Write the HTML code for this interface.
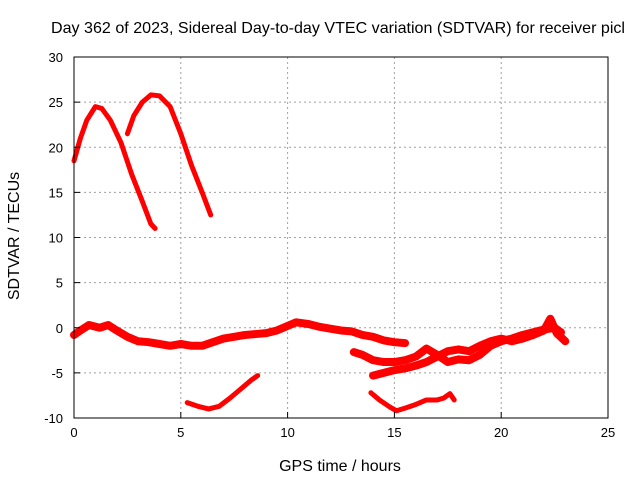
<!DOCTYPE html>
<html><head><meta charset="utf-8"><style>
body{margin:0;background:#fff}
svg{display:block;font-family:"Liberation Sans",sans-serif}
</style></head><body>
<svg id="c" width="640" height="480">
<text x="51" y="33" font-size="16" textLength="574" lengthAdjust="spacingAndGlyphs">Day 362 of 2023, Sidereal Day-to-day VTEC variation (SDTVAR) for receiver picl</text>
<text x="340" y="471" font-size="16" text-anchor="middle">GPS time / hours</text>
<text transform="translate(19,236) rotate(-90)" font-size="16" text-anchor="middle">SDTVAR / TECUs</text>
<g id="grid"></g><g id="series"></g><g id="axes"></g>
</svg>
<script>
const xTicks=[0,5,10,15,20,25];
const yTicks=[-10,-5,0,5,10,15,20,25,30];
const seriesA=[[0,18.5],[0.3,21],[0.6,23],[1,24.5],[1.3,24.3],[1.7,23],[2.2,20.5],[2.7,17],[3.2,14],[3.6,11.5],[3.8,11]];
const seriesB=[[2.5,21.5],[2.8,23.5],[3.2,25],[3.6,25.8],[4,25.7],[4.5,24.5],[5,21.5],[5.5,18],[6,15],[6.4,12.5]];
const seriesC=[[0,-0.8],[0.3,-0.3],[0.7,0.3],[1.2,0],[1.6,0.3],[2,-0.3],[2.5,-1],[3,-1.5],[3.5,-1.6],[4,-1.8],[4.5,-2],[5,-1.8],[5.5,-2],[6,-2],[6.5,-1.6],[7,-1.2],[7.5,-1],[8,-0.8],[8.5,-0.7],[9,-0.6],[9.5,-0.3],[10,0.2],[10.4,0.6],[11,0.4],[11.5,0.1],[12,-0.1],[12.5,-0.3],[13,-0.4],[13.5,-0.8],[14,-1],[14.5,-1.4],[15,-1.6],[15.5,-1.7]];
const seriesD=[[13.1,-2.7],[13.5,-3],[14,-3.6],[14.5,-3.8],[15,-3.8],[15.5,-3.6],[16,-3.2],[16.5,-2.3],[17,-3],[17.5,-3.8],[18,-3.5],[18.5,-3.6],[19,-3],[19.5,-2],[20,-1.5],[20.5,-1.2],[21,-0.8],[21.5,-0.5],[22,-0.2],[22.5,0],[22.8,-0.5]];
const seriesE=[[14,-5.3],[14.5,-5],[15,-4.7],[15.5,-4.5],[16,-4.2],[16.5,-3.8],[17,-3.2],[17.5,-2.6],[18,-2.4],[18.5,-2.6],[19,-2],[19.5,-1.5],[20,-1.2],[20.5,-1.5],[21,-1.2],[21.5,-0.8],[22,-0.3],[22.3,1],[22.6,-0.6],[23,-1.5]];
const seriesF=[[5.3,-8.3],[5.8,-8.7],[6.3,-9],[6.8,-8.7],[7.3,-7.8],[7.8,-6.8],[8.3,-5.8],[8.6,-5.3]];
const seriesG=[[13.9,-7.2],[14.3,-8],[14.8,-8.8],[15.1,-9.2],[15.5,-8.9],[16,-8.5],[16.5,-8],[17,-8],[17.3,-7.8],[17.6,-7.3],[17.8,-8]];
const allSeries=[seriesA,seriesB,seriesC,seriesD,seriesE,seriesF,seriesG];
const L=74,R=608,T=57,B=418;
const xs=v=>L+(v-0)/25*(R-L);
const ys=v=>B-(v+10)/40*(B-T);
const NS="http://www.w3.org/2000/svg";
const grid=document.getElementById('grid'),axes=document.getElementById('axes'),ser=document.getElementById('series');
function mk(tag,at,par){const e=document.createElementNS(NS,tag);for(const k in at)e.setAttribute(k,at[k]);par.appendChild(e);return e;}
xTicks.forEach(t=>{
 const g=mk('line',{x1:xs(t),x2:xs(t),y1:T,y2:B,stroke:'#a0a0a0','stroke-dasharray':'2,3'},grid);
 
 
 const tk=mk('text',{x:xs(t),y:B+19,'font-size':13,'text-anchor':'middle'},axes);tk.textContent=t;
 
 
 mk('line',{x1:xs(t),x2:xs(t),y1:B,y2:B-6,stroke:'#000'},axes);
});
yTicks.forEach(t=>{
 const g=mk('line',{x1:L,x2:R,y1:ys(t),y2:ys(t),stroke:'#a0a0a0','stroke-dasharray':'2,3'},grid);
 
 
 const tk=mk('text',{x:L-11,y:ys(t)+5,'font-size':13,'text-anchor':'end'},axes);tk.textContent=t;
 
 
 mk('line',{x1:L,x2:L+6,y1:ys(t),y2:ys(t),stroke:'#000'},axes);
});
const fr=mk('rect',{x:L,y:T,width:R-L,height:B-T,fill:'none',stroke:'#000'},axes);


allSeries.forEach((s,i)=>{
 const p=mk('polyline',{points:s.map(d=>xs(d[0])+','+ys(d[1])).join(' '),fill:'none',stroke:'#ff0000','stroke-width':(i>=2&&i<=4)?8:5,'stroke-linejoin':'round','stroke-linecap':'round'},ser);
 
 
});
</script>
</body></html>
